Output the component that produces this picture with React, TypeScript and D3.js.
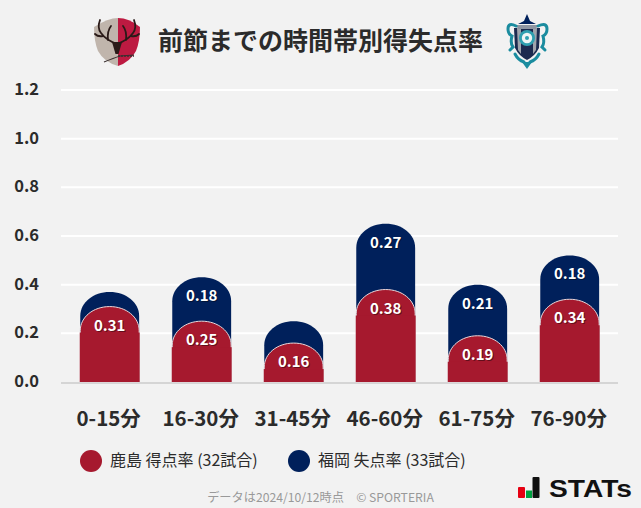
import React from "react";
import * as d3 from "d3";

const categories = ["0-15分", "16-30分", "31-45分", "46-60分", "61-75分", "76-90分"];
const kashimaScored = [0.31, 0.25, 0.16, 0.38, 0.19, 0.34];
const fukuokaConceded = [0.06, 0.18, 0.09, 0.27, 0.21, 0.18];
const showFukuokaLabel = [false, true, false, true, true, true];
const yTicks = [0, 0.2, 0.4, 0.6, 0.8, 1.0, 1.2];

const RED = "#a6192e";
const NAVY = "#00205b";
const FONT = "'Noto Sans CJK JP','Noto Sans',sans-serif";

const x = d3.scaleBand<string>().domain(categories).range([63.7, 615.7]).paddingInner(0.36).paddingOuter(0.18);
const y = d3.scaleLinear().domain([0, 1.2]).range([382, 90]);

function domeTop(left: number, width: number, top: number, bottom: number, ry: number) {
  const p = d3.path();
  const rx = width / 2;
  const shoulder = Math.min(top + ry, bottom);
  p.moveTo(left, bottom);
  p.lineTo(left, shoulder);
  p.bezierCurveTo(left, shoulder - ry * 0.56, left + rx * 0.44, top, left + rx, top);
  p.bezierCurveTo(left + rx * 1.56, top, left + width, shoulder - ry * 0.56, left + width, shoulder);
  p.lineTo(left + width, bottom);
  p.closePath();
  return p.toString();
}

function Label({ cx, cy, text }: { cx: number; cy: number; text: string }) {
  return (
    <g fontFamily={FONT} fontSize={15} fontWeight={700} textAnchor="middle">
      <text x={cx + 1} y={cy + 1} fill="#000" opacity={0.4}>{text}</text>
      <text x={cx} y={cy} fill="#fff">{text}</text>
    </g>
  );
}

function KashimaLogo() {
  return (
    <g>
      <path d="M94 27 Q108 18 118 18 L118 66 Q104 62 98 51 Q94 41 94 27Z" fill="#c0b5ac" />
      <path d="M118 18 Q129 18 140 27 Q140 41 136 51 Q130 62 118 66Z" fill="#bd1a41" />
      <g fill="none" stroke="#2a1a18" strokeWidth={1.8} strokeLinecap="round">
        <path d="M117 44 Q106 40 101 33 Q97 28 100 20" />
        <path d="M103 36 Q98 37 95 34" />
        <path d="M108 40 Q107 31 111 26" />
        <path d="M117 44 Q128 40 133 33 Q137 28 134 20" />
        <path d="M131 36 Q136 37 139 34" />
        <path d="M126 40 Q127 31 123 26" />
      </g>
      <path d="M112 42 L122 42 L118.5 54 L115.5 54Z" fill="#2a1a18" />
      <path d="M104 62 Q114 58 120 56 L134 55" fill="none" stroke="#3a3030" strokeWidth={1.2} />
      <path d="M118 56 L134 56" fill="none" stroke="#3a3030" strokeWidth={1.6} strokeDasharray="2 1" />
    </g>
  );
}

function FukuokaLogo() {
  return (
    <g>
      <path d="M527 14 L530 21 L536 24 L518 24 L524 21Z" fill="#00205b" />
      <path d="M514 28 L540 28 L539 48 Q535 56 527 60 Q519 56 515 48Z" fill="#1c2a4f" />
      <path d="M517 28 L521 28 L521 54 L518 50Z M533 28 L537 28 L536 50 L533 54Z" fill="#a0a4ac" />
      <path d="M516 25 L538 25 L536 29 L518 29Z" fill="#8f96a3" />
      <g fill="none" stroke="#1b8c9f" strokeWidth={3} strokeLinecap="round">
        <path d="M516 26 Q508 22 508 29 Q508 34 512 36 Q510 43 513 47 L510 50" />
        <path d="M538 26 Q547 22 547 29 Q547 34 543 36 Q545 43 542 47 L545 50" />
        <path d="M515 54 Q518 60 524 62" />
        <path d="M539 54 Q536 60 530 62" />
      </g>
      <path d="M522 62 L532 62 L527 69Z" fill="#1b8c9f" />
      <circle cx="527" cy="38" r="8" fill="#2e9fb0" />
      <circle cx="527" cy="38" r="5.2" fill="#eef5f5" />
      <circle cx="527" cy="38" r="2" fill="#2e9fb0" />
    </g>
  );
}

function StatsLogo() {
  return (
    <g>
      <rect x="518" y="487" width="7" height="11" rx="1" fill="#e60012" />
      <rect x="526" y="490.5" width="6" height="7.5" fill="#00a040" />
      <rect x="532.5" y="477" width="7" height="21" rx="1" fill="#111" />
      <text x="549" y="497" fontFamily="'Liberation Sans',sans-serif" fontWeight={700} fontSize={23} fill="#111" textLength={83} lengthAdjust="spacingAndGlyphs">STATs</text>
    </g>
  );
}

export default function App() {
  const bw = x.bandwidth();
  return (
    <svg width={641} height={508} style={{ position: "absolute", left: 0, top: 0, background: "#f2f2f2" }} fontFamily={FONT}>
      <rect width={641} height={508} fill="#f2f2f2" />
      <KashimaLogo />
      <FukuokaLogo />
      <text x={320.5} y={50} textAnchor="middle" fontSize={25} fontWeight={700} fill="#2b2b2b">前節までの時間帯別得失点率</text>

      {yTicks.map((t) => (
        <g key={t}>
          {t > 0 && <line x1={61} x2={618} y1={y(t)} y2={y(t)} stroke="#fff" strokeWidth={2} />}
          <text x={39} y={y(t) + 5} textAnchor="end" fontSize={16.5} fontWeight={700} fill="#2b2b2b">{t.toFixed(1)}</text>
        </g>
      ))}
      <line x1={61} x2={618} y1={y(0) + 1} y2={y(0) + 1} stroke="#d5d5d5" strokeWidth={2} />

      {categories.map((c, i) => {
        const left = x(c)!;
        const cx = left + bw / 2;
        const red = kashimaScored[i];
        const navy = fukuokaConceded[i];
        const total = red + navy;
        return (
          <g key={c}>
            <path d={domeTop(left, bw, y(total), y(0), 24)} fill={NAVY} />
            <path d={domeTop(left, bw, y(red), y(0), 24)} fill={RED} stroke="#e4d8dc" strokeWidth={1} />
            <rect x={left - 0.5} y={y(red) + 26} width={bw + 1} height={y(0) - y(red) - 26} fill={RED} />
            {showFukuokaLabel[i] && <Label cx={cx} cy={y(total) + 24} text={navy.toFixed(2)} />}
            <Label cx={cx} cy={y(red) + 24} text={red.toFixed(2)} />
            <text x={cx - 1} y={426} textAnchor="middle" fontSize={20.5} fontWeight={700} fill="#2b2b2b">{c}</text>
          </g>
        );
      })}

      <circle cx={91} cy={461} r={11} fill={RED} />
      <text x={110} y={466} fontSize={16} fill="#2b2b2b">鹿島 得点率 (32試合)</text>
      <circle cx={299} cy={461} r={11} fill={NAVY} />
      <text x={318} y={466} fontSize={16} fill="#2b2b2b">福岡 失点率 (33試合)</text>

      <text x={320.5} y={502} textAnchor="middle" fontSize={12.2} fill="#999">データは2024/10/12時点　© SPORTERIA</text>
      <StatsLogo />
    </svg>
  );
}
